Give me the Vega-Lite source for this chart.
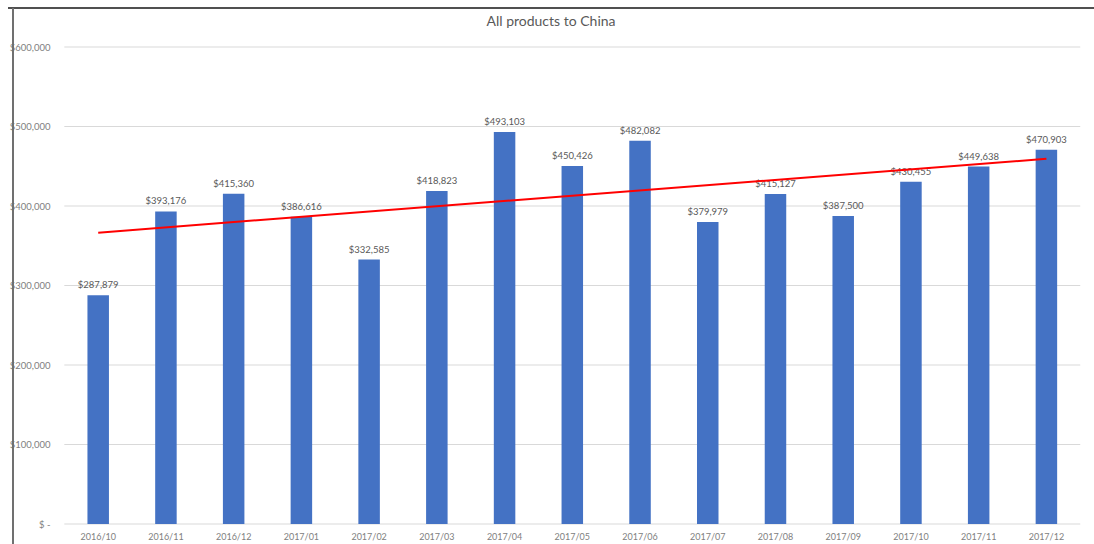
{
  "$schema": "https://vega.github.io/schema/vega-lite/v6.json",
  "width": 1086,
  "height": 536,
  "autosize": {"type": "none"},
  "padding": {"left": 8, "top": 8, "right": 0, "bottom": 0},
  "background": "white",
  "title": {
    "text": "All products to China",
    "font": "Lato",
    "fontSize": 14,
    "fontWeight": "normal",
    "color": "#595959",
    "anchor": "middle",
    "frame": "group",
    "offset": -22
  },
  "config": {"view": {"stroke": null}, "font": "Lato"},
  "datasets": {
    "sales": [
      {"idx": 0, "month": "2016/10", "value": 287879},
      {"idx": 1, "month": "2016/11", "value": 393176},
      {"idx": 2, "month": "2016/12", "value": 415360},
      {"idx": 3, "month": "2017/01", "value": 386616},
      {"idx": 4, "month": "2017/02", "value": 332585},
      {"idx": 5, "month": "2017/03", "value": 418823},
      {"idx": 6, "month": "2017/04", "value": 493103},
      {"idx": 7, "month": "2017/05", "value": 450426},
      {"idx": 8, "month": "2017/06", "value": 482082},
      {"idx": 9, "month": "2017/07", "value": 379979},
      {"idx": 10, "month": "2017/08", "value": 415127},
      {"idx": 11, "month": "2017/09", "value": 387500},
      {"idx": 12, "month": "2017/10", "value": 430455},
      {"idx": 13, "month": "2017/11", "value": 449638},
      {"idx": 14, "month": "2017/12", "value": 470903}
    ],
    "grid": [
      {"tick": 0}, {"tick": 100000}, {"tick": 200000}, {"tick": 300000},
      {"tick": 400000}, {"tick": 500000}, {"tick": 600000}
    ]
  },
  "layer": [
    {
      "data": {"name": "grid"},
      "mark": {"type": "rule", "color": "#d9d9d9", "strokeWidth": 1},
      "encoding": {
        "x": {
          "datum": -0.5,
          "type": "quantitative",
          "scale": {"domain": [-1.258, 14.629], "nice": false, "zero": false},
          "axis": null
        },
        "x2": {"datum": 14.5},
        "y": {
          "field": "tick",
          "type": "quantitative",
          "scale": {"domain": [-25157, 649057], "nice": false, "zero": false},
          "axis": {
            "values": [0, 100000, 200000, 300000, 400000, 500000, 600000],
            "labelExpr": "datum.value == 0 ? '$ -' : '$' + format(datum.value, ',')",
            "grid": false,
            "ticks": false,
            "domain": false,
            "offset": -44,
            "labelPadding": 2,
            "labelFont": "Lato",
            "labelFontSize": 9.5,
            "labelColor": "#808080",
            "title": null
          }
        }
      }
    },
    {
      "data": {"name": "sales"},
      "mark": {"type": "bar", "orient": "vertical", "width": 21.5, "color": "#4472c4"},
      "encoding": {
        "x": {"field": "idx", "type": "quantitative"},
        "y": {"field": "value", "type": "quantitative"},
        "y2": {"datum": 0}
      }
    },
    {
      "data": {"name": "sales"},
      "mark": {"type": "text", "baseline": "middle", "dy": -10, "fontSize": 9.5, "color": "#595959"},
      "encoding": {
        "x": {"field": "idx", "type": "quantitative"},
        "y": {"field": "value", "type": "quantitative"},
        "text": {"field": "value", "type": "quantitative", "format": "$,.0f"}
      }
    },
    {
      "data": {"name": "sales"},
      "mark": {"type": "text", "baseline": "middle", "dy": 13, "fontSize": 9, "color": "#808080"},
      "encoding": {
        "x": {"field": "idx", "type": "quantitative"},
        "y": {"datum": 0, "type": "quantitative"},
        "text": {"field": "month", "type": "nominal"}
      }
    },
    {
      "data": {"name": "sales"},
      "transform": [{"regression": "value", "on": "idx", "method": "linear"}],
      "mark": {"type": "line", "color": "#ff0000", "strokeWidth": 2},
      "encoding": {
        "x": {"field": "idx", "type": "quantitative"},
        "y": {"field": "value", "type": "quantitative"}
      }
    },
    {
      "data": {"values": [{}]},
      "mark": {"type": "rule", "color": "#505050", "strokeWidth": 2},
      "encoding": {"y": {"datum": 649057, "type": "quantitative"}}
    },
    {
      "data": {"values": [{}]},
      "mark": {"type": "rule", "color": "#707070", "strokeWidth": 2},
      "encoding": {"x": {"datum": -1.258, "type": "quantitative"}}
    }
  ]
}
